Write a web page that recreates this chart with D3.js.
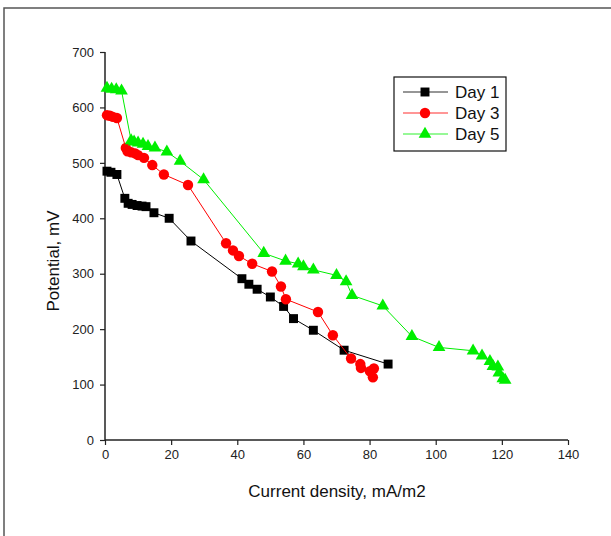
<!DOCTYPE html>
<html>
<head>
<meta charset="utf-8">
<script src="https://cdn.jsdelivr.net/npm/d3@7"></script>
<style>
body { margin: 0; background: #fff; }
svg { font-family: "Liberation Sans", Arial, sans-serif; }
</style>
</head>
<body>
<svg id="chart" width="611" height="536"></svg>
<script>
// values
var day1X = [0.6, 1.8, 3.6, 6.0, 7.0, 8.2, 9.7, 11.2, 12.4, 14.8, 19.4, 26.0, 41.4, 43.5, 46.0, 50.0, 54.0, 57.0, 63.0, 72.3, 85.6];
var day1Y = [485, 483, 479, 436, 427, 425, 423, 422, 421, 410, 400, 359, 291, 281, 272, 258, 241, 219, 198, 162, 137];

var day3X = [0.6, 1.5, 2.4, 3.6, 6.3, 6.8, 7.9, 9.1, 10.0, 11.8, 14.3, 17.8, 25.1, 36.6, 38.7, 40.5, 44.5, 50.5, 53.2, 54.7, 64.4, 68.9, 74.4, 77.2, 77.4, 80.1, 81.3, 81.0];
var day3Y = [586, 585, 583, 581, 527, 521, 519, 517, 514, 509, 496, 479, 460, 355, 342, 332, 318, 304, 277, 254, 231, 189, 147, 137, 130, 124, 129, 113];

var day5X = [0.6, 2.0, 3.4, 5.0, 7.9, 8.8, 10.0, 11.5, 13.0, 15.1, 18.7, 22.7, 29.8, 48.0, 54.6, 58.4, 60.0, 63.0, 70.0, 72.9, 74.7, 84.0, 92.8, 101.0, 111.3, 114.0, 116.4, 117.3, 118.8, 119.1, 120.3, 121.0];
var day5Y = [635, 633, 632, 630, 540, 538, 536, 534, 530, 527, 520, 503, 470, 337, 323, 318, 313, 307, 297, 286, 261, 242, 187, 167, 161, 152, 142, 133, 132, 121, 111, 108];

var seriesNames = ["Day 1", "Day 3", "Day 5"];
var xTicks = [0, 20, 40, 60, 80, 100, 120, 140];
var yTicks = [0, 100, 200, 300, 400, 500, 600, 700];

var svg = d3.select("#chart");

// outer frame
svg.append("rect")
    .attr("x", 4).attr("y", 8)
    .attr("width", 640).attr("height", 560)
    .attr("fill", "none")
    .attr("stroke", "#555")
    .attr("stroke-width", 1.5);

var x = d3.scaleLinear().domain([0, 140]).range([105, 568]);
var y = d3.scaleLinear().domain([0, 700]).range([440, 52]);

// minor ticks first, then major ticks with labels
var gx = svg.append("g").attr("transform", "translate(0,440)");
gx.call(d3.axisBottom(x).tickValues(d3.range(10, 140, 20)).tickSize(3).tickFormat(""));
gx.call(d3.axisBottom(x).tickValues(xTicks).tickSize(5).tickPadding(5).tickFormat(d3.format("d")));
gx.select(".domain").remove();

var gy = svg.append("g").attr("transform", "translate(105,0)");
gy.call(d3.axisLeft(y).tickValues(d3.range(50, 700, 100)).tickSize(3).tickFormat(""));
gy.call(d3.axisLeft(y).tickValues(yTicks).tickSize(5).tickPadding(6).tickFormat(d3.format("d")));
gy.select(".domain").remove();

svg.selectAll(".tick line").attr("stroke", "#222").attr("stroke-width", 1.2);
svg.selectAll(".tick text").attr("font-size", 13).attr("fill", "#222")
    .style("font-family", "Liberation Sans, Arial, sans-serif");

svg.append("line").attr("x1", 105).attr("x2", 568).attr("y1", 440).attr("y2", 440)
    .attr("stroke", "#222").attr("stroke-width", 1.5);
svg.append("line").attr("x1", 105).attr("x2", 105).attr("y1", 52).attr("y2", 440)
    .attr("stroke", "#222").attr("stroke-width", 1.5);

svg.append("text")
    .attr("x", 337).attr("y", 497)
    .attr("text-anchor", "middle")
    .attr("font-size", 17).attr("fill", "#111")
    .text("Current density, mA/m2");

svg.append("text")
    .attr("transform", "translate(59,261) rotate(-90)")
    .attr("text-anchor", "middle")
    .attr("font-size", 17).attr("fill", "#111")
    .text("Potential, mV");

var series = [
    {name: seriesNames[0], xs: day1X, ys: day1Y, color: "#000000", sym: d3.symbolSquare, size: 80},
    {name: seriesNames[1], xs: day3X, ys: day3Y, color: "#ff0000", sym: d3.symbolCircle, size: 85},
    {name: seriesNames[2], xs: day5X, ys: day5Y, color: "#00ee00", sym: d3.symbolTriangle, size: 70}
];

var line = d3.line().x(function(d) { return x(d[0]); }).y(function(d) { return y(d[1]); });

series.forEach(function(s) {
    var pts = s.xs.map(function(v, i) { return [v, s.ys[i]]; });
    svg.append("path")
        .attr("d", line(pts))
        .attr("fill", "none")
        .attr("stroke", s.color)
        .attr("stroke-width", 1);
    svg.append("g").selectAll("path")
        .data(pts)
        .enter()
        .append("path")
        .attr("d", d3.symbol().type(s.sym).size(s.size))
        .attr("transform", function(d) { return "translate(" + x(d[0]) + "," + y(d[1]) + ")"; })
        .attr("fill", s.color);
});

// legend
var lg = svg.append("g");
lg.append("rect")
    .attr("x", 394).attr("y", 77)
    .attr("width", 112).attr("height", 74)
    .attr("fill", "#fff")
    .attr("stroke", "#111")
    .attr("stroke-width", 1.2);
series.forEach(function(s, i) {
    var yy = 92 + i * 21;
    lg.append("line")
        .attr("x1", 403).attr("x2", 448)
        .attr("y1", yy).attr("y2", yy)
        .attr("stroke", s.color).attr("stroke-opacity", 0.55)
        .attr("stroke-width", 1.5);
    lg.append("path")
        .attr("d", d3.symbol().type(s.sym).size(s.size))
        .attr("transform", "translate(425," + yy + ")")
        .attr("fill", s.color);
    lg.append("text")
        .attr("x", 455).attr("y", yy + 6)
        .attr("font-size", 17).attr("fill", "#111")
        .text(s.name);
});
</script>
</body>
</html>
